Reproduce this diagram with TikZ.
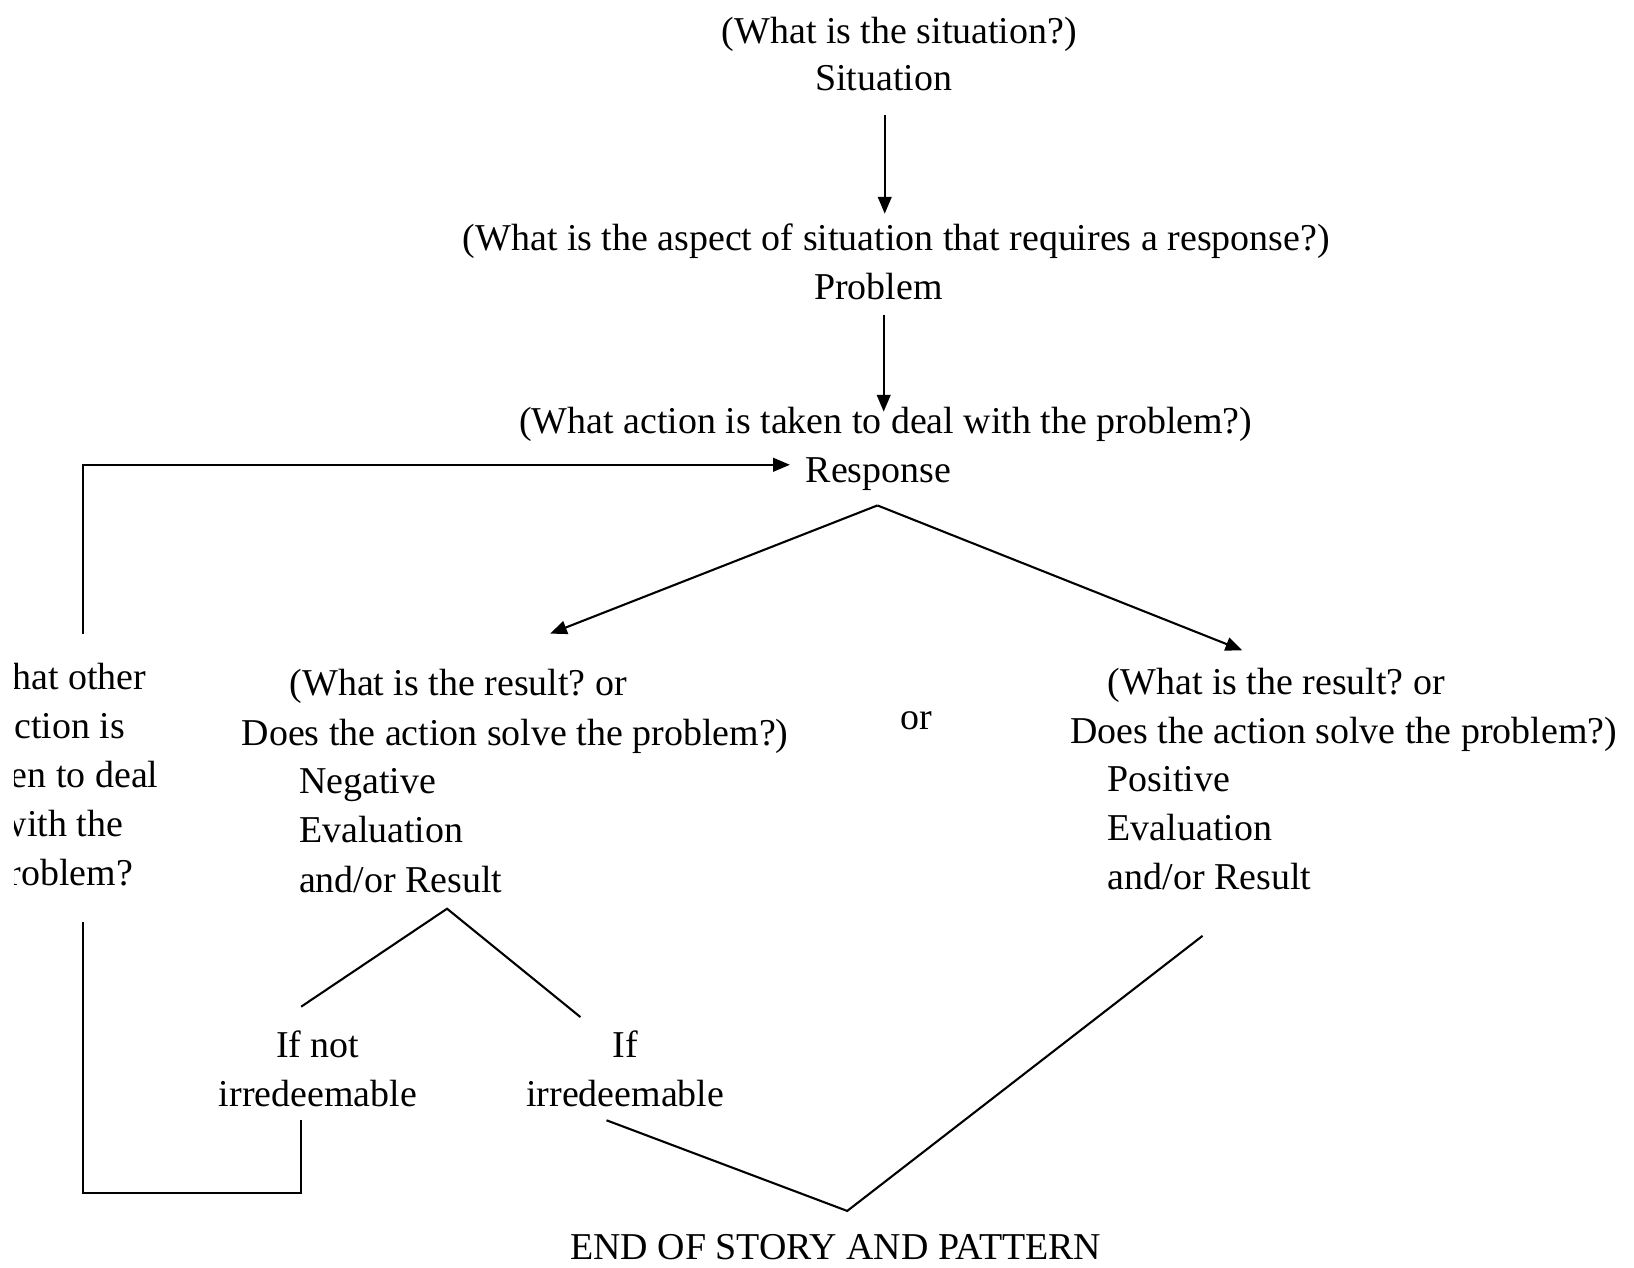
\documentclass[tikz,border=0pt]{standalone}
\usepackage{fontspec}
\setmainfont{Liberation Serif}
\usetikzlibrary{arrows.meta}
\frenchspacing
\begin{document}
\begin{tikzpicture}[x=0.5pt,y=-0.5pt,
  txt/.style={inner sep=0pt, outer sep=0pt, font=\fontsize{18.2}{23.6}\selectfont, anchor=base},
  lft/.style={txt, anchor=base west, align=left},
  conn/.style={line width=1pt, line join=miter},
  arr/.style={conn, -{Triangle[length=8pt,width=6.5pt]}}]
\useasboundingbox (0,0) rectangle (1568,1216);

% ---- main column ----
\node[txt] (qsit) at (863,42) {(What is the situation?)};
\node[txt] (sit)  at (848,87) {Situation};
\node[txt] (qprob) at (860,240) {(What is the aspect of situation that requires a response?)};
\node[txt] (prob) at (843,287) {Problem};
\node[txt] (qresp) at (850,416) {(What action is taken to deal with the problem?)};
\node[txt] (resp) at (843,463) {Response};

% ---- negative branch (multi-line nodes sit on their last baseline) ----
\node[lft] (qneg1) at (278,667) {(What is the result? or};
\node[lft] (qneg2) at (232,715) {Does the action solve the problem?)};
\node[lft] (neg)   at (287,856) {Negative\\Evaluation\\and/or Result};

\node[txt] (or) at (879,700) {or};

% ---- positive branch ----
\node[lft] (qpos1) at (1063,666) {(What is the result? or};
\node[lft] (qpos2) at (1027,713) {Does the action solve the problem?)};
\node[lft] (pos)   at (1063,854) {Positive\\Evaluation\\and/or Result};

% ---- outcomes ----
\node[txt, align=center] (notirr) at (305,1062) {If not\\irredeemable};
\node[txt, align=center] (irr)    at (600,1062) {If\\irredeemable};
\node[txt] (end) at (802,1209) {END OF STORY AND PATTERN};

% ---- side question, running off the left edge ----
\begin{scope}
  \clip (14,615) rectangle (300,880);
  \node[txt, align=center] (qother) at (59,850) {What other\\action is\\taken to deal\\with the\\problem?};
\end{scope}

% ---- connector end points ----
\coordinate (sitB)  at (849,110);
\coordinate (qprobT) at (849,205);
\coordinate (probB) at (848,302);
\coordinate (qrespT) at (848,395);
\coordinate (loopT) at (80,608);
\coordinate (loopC) at (80,446);
\coordinate (respW) at (758,446);
\coordinate (respB) at (842,485);
\coordinate (negT)  at (528,608);
\coordinate (posT)  at (1192,624);
\coordinate (negB)  at (429,872);
\coordinate (notirrT) at (289,966);
\coordinate (irrT)  at (557,976);
\coordinate (loopB) at (80,885);
\coordinate (loopL) at (80,1145);
\coordinate (loopR) at (289,1145);
\coordinate (notirrB) at (289,1075);
\coordinate (irrB)  at (582,1075);
\coordinate (endT)  at (813,1162);
\coordinate (posB)  at (1154,898);

% ---- connectors ----
\draw[arr] (sitB) -- (qprobT);
\draw[arr] (probB) -- (qrespT);
\draw[arr] (loopT) -- (loopC) -- (respW);
\draw[arr] (respB) -- (negT);
\draw[arr] (respB) -- (posT);
\draw[conn] (notirrT) -- (negB) -- (irrT);
\draw[conn] (loopB) -- (loopL) -- (loopR) -- (notirrB);
\draw[conn] (irrB) -- (endT) -- (posB);
\end{tikzpicture}
\end{document}
